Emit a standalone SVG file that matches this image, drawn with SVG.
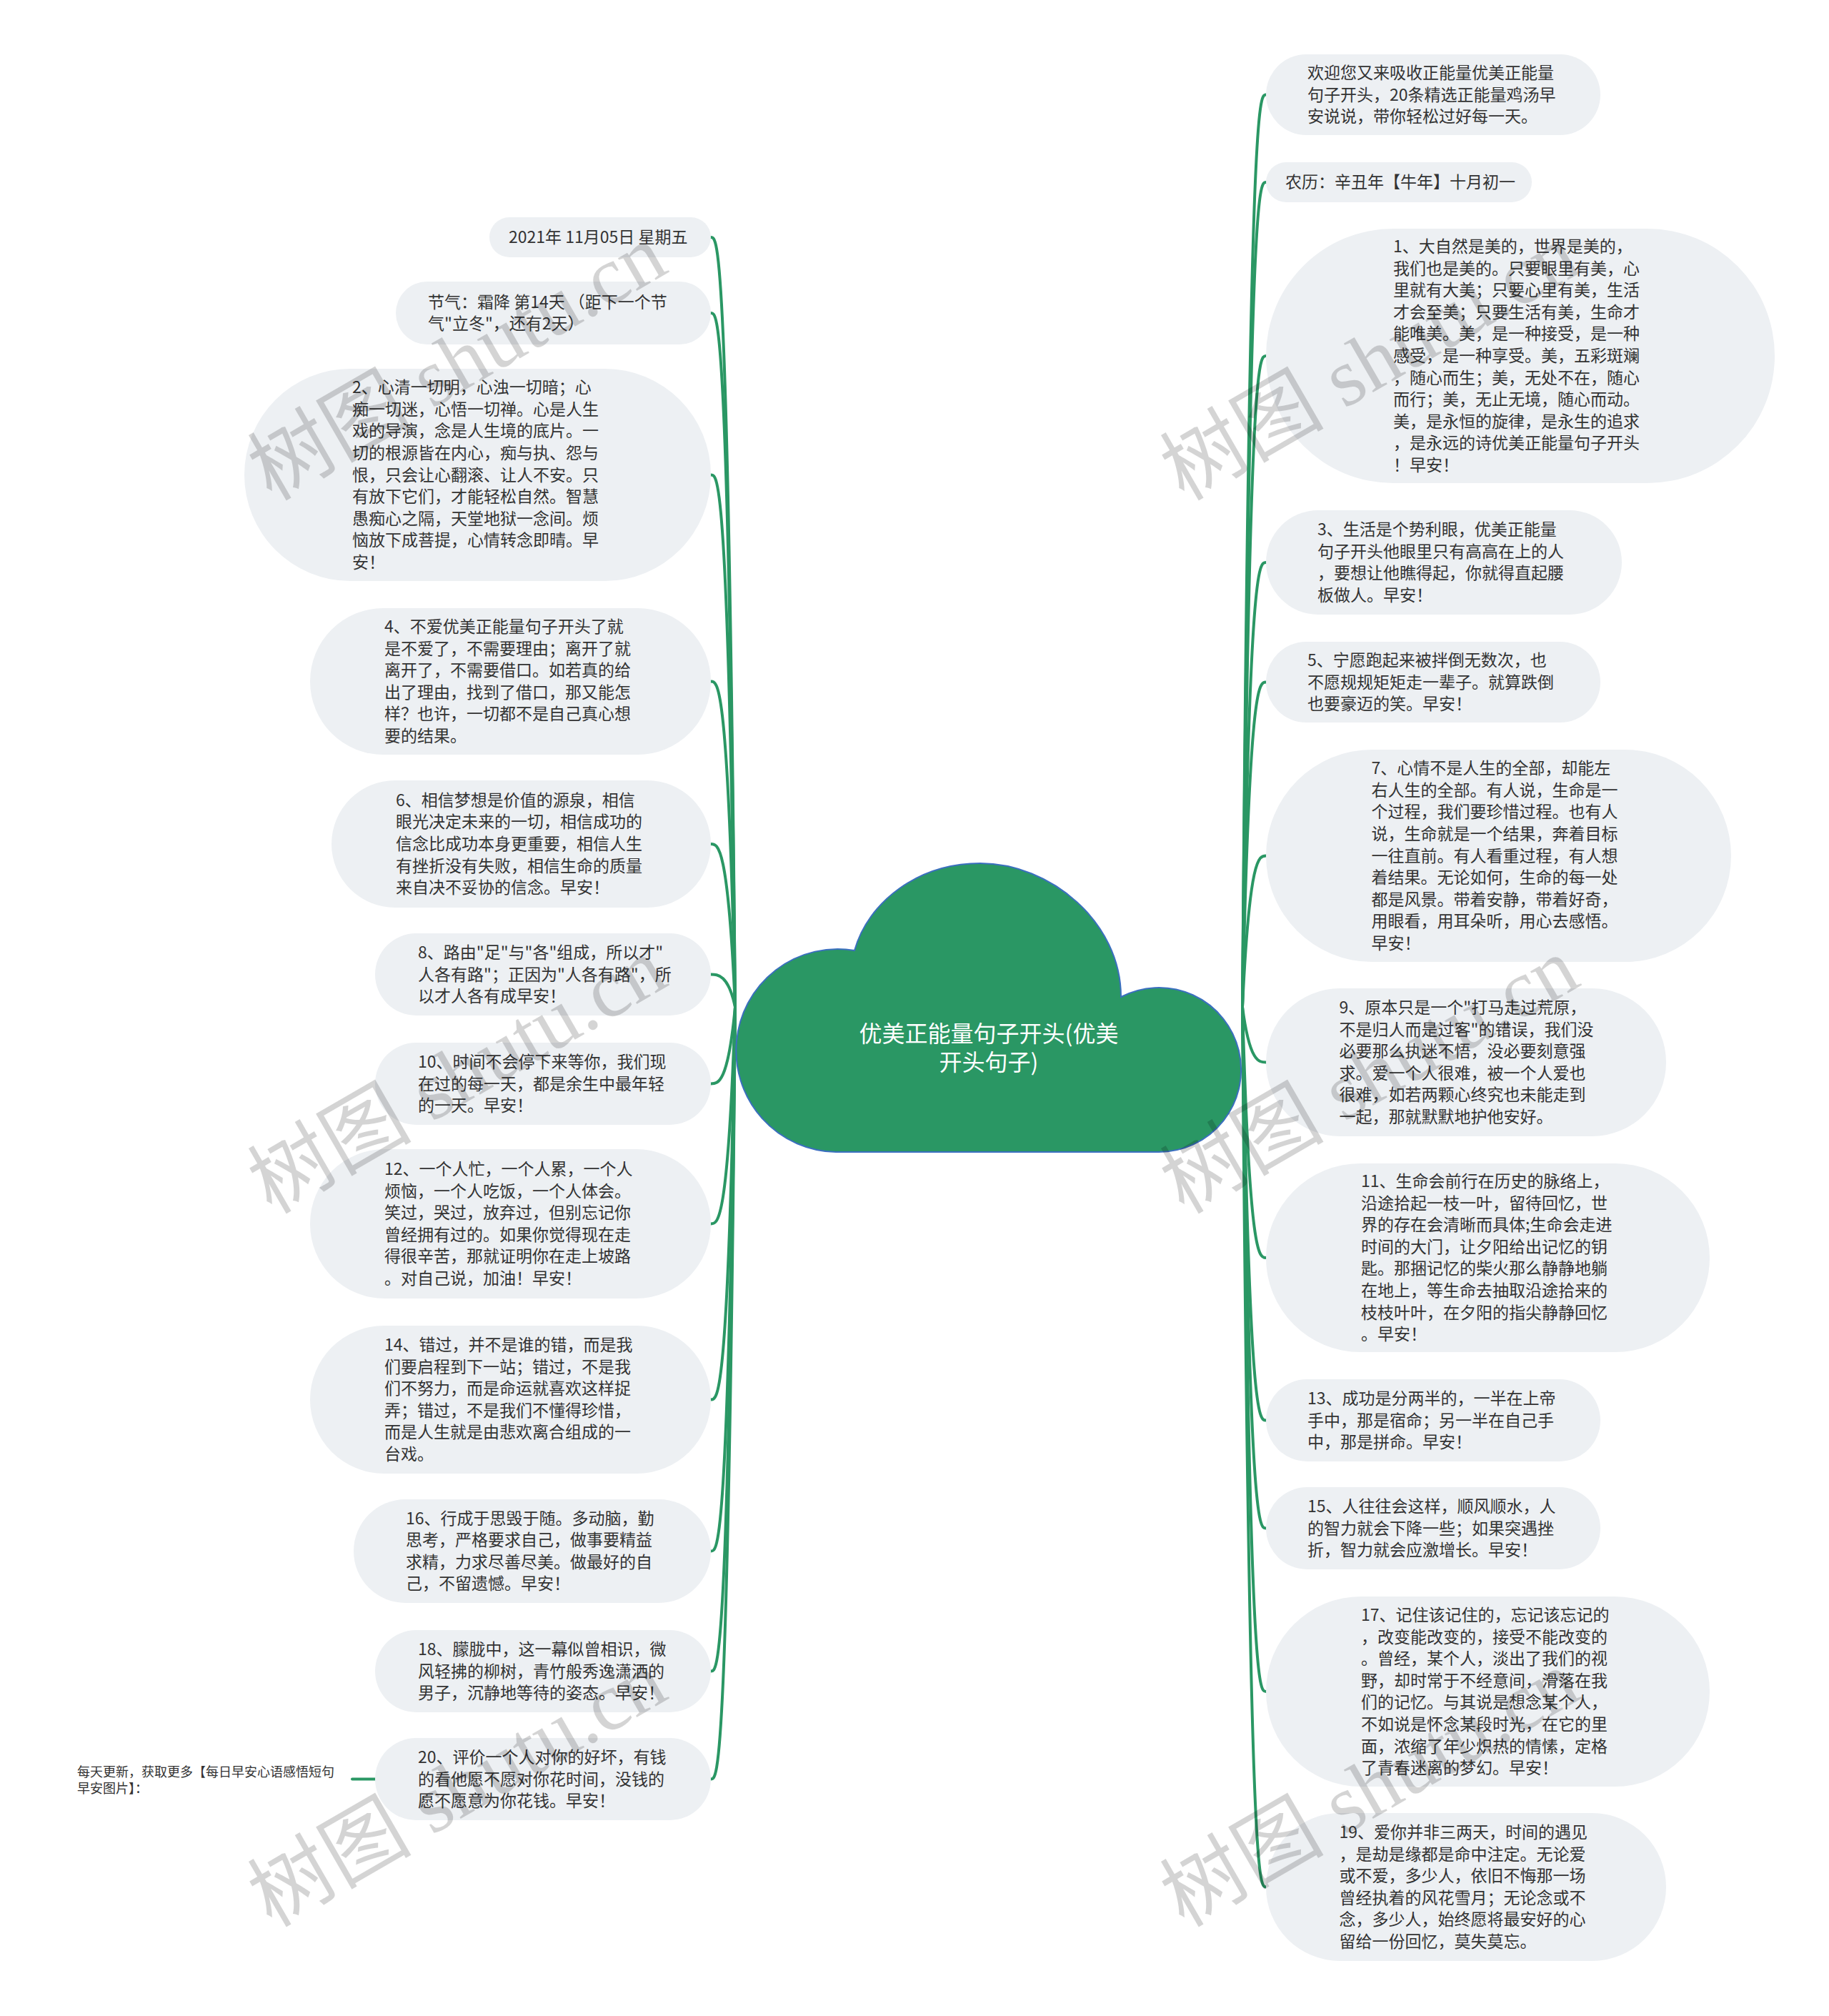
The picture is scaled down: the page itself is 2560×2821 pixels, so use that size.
<svg xmlns="http://www.w3.org/2000/svg" width="2560" height="2821" viewBox="0 0 2560 2821">
<style>
.b{fill:#edf0f3}
.t{font-family:"Noto Sans CJK SC","Liberation Sans",sans-serif;font-size:23px;fill:#333333}
.c{fill:none;stroke:#2a9764;stroke-width:4;stroke-linecap:round}
.root{fill:#2a9764;stroke:#3b6fbf;stroke-width:2}
.rt{font-family:"Noto Sans CJK SC","Liberation Sans",sans-serif;font-size:32px;fill:#ffffff;text-anchor:middle}
.fn{font-family:"Noto Sans CJK SC","Liberation Sans",sans-serif;font-size:18px;fill:#333333}
.wm{font-family:"Liberation Serif","Noto Sans CJK SC",serif;font-size:115px;fill:#000000;fill-opacity:0.17}
</style>
<rect width="2560" height="2821" fill="#ffffff"/>
<g id="connectors">
<path class="c" d="M1029 1409 C1019 332 1005 332 995 332"/>
<path class="c" d="M1029 1409 C1019 438 1005 438 995 438"/>
<path class="c" d="M1029 1409 C1019 664.5 1005 664.5 995 664.5"/>
<path class="c" d="M1029 1409 C1019 953.5 1005 953.5 995 953.5"/>
<path class="c" d="M1029 1409 C1019 1181 1005 1181 995 1181"/>
<path class="c" d="M1029 1409 C1019 1363.5 1005 1363.5 995 1363.5"/>
<path class="c" d="M1029 1409 C1019 1516.5 1005 1516.5 995 1516.5"/>
<path class="c" d="M1029 1409 C1019 1712.5 1005 1712.5 995 1712.5"/>
<path class="c" d="M1029 1409 C1019 1958.5 1005 1958.5 995 1958.5"/>
<path class="c" d="M1029 1409 C1019 2170.5 1005 2170.5 995 2170.5"/>
<path class="c" d="M1029 1409 C1019 2338.5 1005 2338.5 995 2338.5"/>
<path class="c" d="M1029 1409 C1019 2489.5 1005 2489.5 995 2489.5"/>
<path class="c" d="M1739 1409 C1749 132.5 1762 132.5 1772 132.5"/>
<path class="c" d="M1739 1409 C1749 255 1762 255 1772 255"/>
<path class="c" d="M1739 1409 C1749 498 1762 498 1772 498"/>
<path class="c" d="M1739 1409 C1749 787 1762 787 1772 787"/>
<path class="c" d="M1739 1409 C1749 954.5 1762 954.5 1772 954.5"/>
<path class="c" d="M1739 1409 C1749 1197.5 1762 1197.5 1772 1197.5"/>
<path class="c" d="M1739 1409 C1749 1486.5 1762 1486.5 1772 1486.5"/>
<path class="c" d="M1739 1409 C1749 1760 1762 1760 1772 1760"/>
<path class="c" d="M1739 1409 C1749 1987.5 1762 1987.5 1772 1987.5"/>
<path class="c" d="M1739 1409 C1749 2138.5 1762 2138.5 1772 2138.5"/>
<path class="c" d="M1739 1409 C1749 2367 1762 2367 1772 2367"/>
<path class="c" d="M1739 1409 C1749 2640.5 1762 2640.5 1772 2640.5"/>
<path class="c" d="M493 2489.5 L525 2489.5"/>
</g>
<g id="root">
<path class="root" d="M1170 1612 A142 142 0 1 1 1196 1330 C1215 1262 1285 1208 1372 1208 C1470 1208 1569 1290 1569 1395 A115 115 0 1 1 1622 1612 Z"/>
<text class="rt" x="1384" y="1458">优美正能量句子开头(优美</text>
<text class="rt" x="1384" y="1498">开头句子)</text>
</g>
<g id="n-r1"><rect class="b" x="1772" y="76" width="468" height="113" rx="56.5"/>
<text class="t" x="1830" y="109.9">欢迎您又来吸收正能量优美正能量<tspan x="1830" dy="30.6">句子开头，20条精选正能量鸡汤早</tspan><tspan x="1830" dy="30.6">安说说，带你轻松过好每一天。</tspan></text></g>
<g id="n-r2"><rect class="b" x="1772" y="227" width="372" height="56" rx="28"/>
<text class="t" x="1799" y="263">农历：辛丑年【牛年】十月初一</text></g>
<g id="n-r3"><rect class="b" x="1772" y="320" width="712" height="356" rx="178"/>
<text class="t" x="1950" y="353">1、大自然是美的，世界是美的，<tspan x="1950" dy="30.6">我们也是美的。只要眼里有美，心</tspan><tspan x="1950" dy="30.6">里就有大美；只要心里有美，生活</tspan><tspan x="1950" dy="30.6">才会至美；只要生活有美，生命才</tspan><tspan x="1950" dy="30.6">能唯美。美，是一种接受，是一种</tspan><tspan x="1950" dy="30.6">感受，是一种享受。美，五彩斑斓</tspan><tspan x="1950" dy="30.6">，随心而生；美，无处不在，随心</tspan><tspan x="1950" dy="30.6">而行；美，无止无境，随心而动。</tspan><tspan x="1950" dy="30.6">美，是永恒的旋律，是永生的追求</tspan><tspan x="1950" dy="30.6">，是永远的诗优美正能量句子开头</tspan><tspan x="1950" dy="30.6">！早安！</tspan></text></g>
<g id="n-r4"><rect class="b" x="1772" y="714" width="498" height="146" rx="73"/>
<text class="t" x="1844" y="749.1">3、生活是个势利眼，优美正能量<tspan x="1844" dy="30.6">句子开头他眼里只有高高在上的人</tspan><tspan x="1844" dy="30.6">，要想让他瞧得起，你就得直起腰</tspan><tspan x="1844" dy="30.6">板做人。早安！</tspan></text></g>
<g id="n-r5"><rect class="b" x="1772" y="898" width="468" height="113" rx="56.5"/>
<text class="t" x="1830" y="931.9">5、宁愿跑起来被拌倒无数次，也<tspan x="1830" dy="30.6">不愿规规矩矩走一辈子。就算跌倒</tspan><tspan x="1830" dy="30.6">也要豪迈的笑。早安！</tspan></text></g>
<g id="n-r6"><rect class="b" x="1772" y="1049" width="651" height="297" rx="148.5"/>
<text class="t" x="1919.5" y="1083.1">7、心情不是人生的全部，却能左<tspan x="1919.5" dy="30.6">右人生的全部。有人说，生命是一</tspan><tspan x="1919.5" dy="30.6">个过程，我们要珍惜过程。也有人</tspan><tspan x="1919.5" dy="30.6">说，生命就是一个结果，奔着目标</tspan><tspan x="1919.5" dy="30.6">一往直前。有人看重过程，有人想</tspan><tspan x="1919.5" dy="30.6">着结果。无论如何，生命的每一处</tspan><tspan x="1919.5" dy="30.6">都是风景。带着安静，带着好奇，</tspan><tspan x="1919.5" dy="30.6">用眼看，用耳朵听，用心去感悟。</tspan><tspan x="1919.5" dy="30.6">早安！</tspan></text></g>
<g id="n-r7"><rect class="b" x="1772" y="1383" width="560" height="207" rx="103.5"/>
<text class="t" x="1874.6" y="1418">9、原本只是一个"打马走过荒原，<tspan x="1874.6" dy="30.6">不是归人而是过客"的错误，我们没</tspan><tspan x="1874.6" dy="30.6">必要那么执迷不悟，没必要刻意强</tspan><tspan x="1874.6" dy="30.6">求。爱一个人很难，被一个人爱也</tspan><tspan x="1874.6" dy="30.6">很难，如若两颗心终究也未能走到</tspan><tspan x="1874.6" dy="30.6">一起，那就默默地护他安好。</tspan></text></g>
<g id="n-r8"><rect class="b" x="1772" y="1628" width="621" height="264" rx="132"/>
<text class="t" x="1905" y="1660.9">11、生命会前行在历史的脉络上，<tspan x="1905" dy="30.6">沿途拾起一枝一叶，留待回忆，世</tspan><tspan x="1905" dy="30.6">界的存在会清晰而具体;生命会走进</tspan><tspan x="1905" dy="30.6">时间的大门，让夕阳给出记忆的钥</tspan><tspan x="1905" dy="30.6">匙。那捆记忆的柴火那么静静地躺</tspan><tspan x="1905" dy="30.6">在地上，等生命去抽取沿途拾来的</tspan><tspan x="1905" dy="30.6">枝枝叶叶，在夕阳的指尖静静回忆</tspan><tspan x="1905" dy="30.6">。早安！</tspan></text></g>
<g id="n-r9"><rect class="b" x="1772" y="1930" width="468" height="115" rx="57.5"/>
<text class="t" x="1830" y="1964.9">13、成功是分两半的，一半在上帝<tspan x="1830" dy="30.6">手中，那是宿命；另一半在自己手</tspan><tspan x="1830" dy="30.6">中，那是拼命。早安！</tspan></text></g>
<g id="n-r10"><rect class="b" x="1772" y="2081" width="468" height="115" rx="57.5"/>
<text class="t" x="1830" y="2115.9">15、人往往会这样，顺风顺水，人<tspan x="1830" dy="30.6">的智力就会下降一些；如果突遇挫</tspan><tspan x="1830" dy="30.6">折，智力就会应激增长。早安！</tspan></text></g>
<g id="n-r11"><rect class="b" x="1772" y="2234" width="621" height="266" rx="133"/>
<text class="t" x="1905" y="2267.9">17、记住该记住的，忘记该忘记的<tspan x="1905" dy="30.6">，改变能改变的，接受不能改变的</tspan><tspan x="1905" dy="30.6">。曾经，某个人，淡出了我们的视</tspan><tspan x="1905" dy="30.6">野，却时常于不经意间，滑落在我</tspan><tspan x="1905" dy="30.6">们的记忆。与其说是想念某个人，</tspan><tspan x="1905" dy="30.6">不如说是怀念某段时光，在它的里</tspan><tspan x="1905" dy="30.6">面，浓缩了年少炽热的情愫，定格</tspan><tspan x="1905" dy="30.6">了青春迷离的梦幻。早安！</tspan></text></g>
<g id="n-r12"><rect class="b" x="1772" y="2537" width="560" height="207" rx="103.5"/>
<text class="t" x="1874.6" y="2572">19、爱你并非三两天，时间的遇见<tspan x="1874.6" dy="30.6">，是劫是缘都是命中注定。无论爱</tspan><tspan x="1874.6" dy="30.6">或不爱，多少人，依旧不悔那一场</tspan><tspan x="1874.6" dy="30.6">曾经执着的风花雪月；无论念或不</tspan><tspan x="1874.6" dy="30.6">念，多少人，始终愿将最安好的心</tspan><tspan x="1874.6" dy="30.6">留给一份回忆，莫失莫忘。</tspan></text></g>
<g id="n-l1"><rect class="b" x="685" y="304" width="310" height="56" rx="28"/>
<text class="t" x="712" y="340">2021年 11月05日 星期五</text></g>
<g id="n-l2"><rect class="b" x="554" y="394" width="441" height="88" rx="44"/>
<text class="t" x="599" y="430.7">节气：霜降 第14天 （距下一个节<tspan x="599" dy="30.6">气"立冬"，还有2天）</tspan></text></g>
<g id="n-l3"><rect class="b" x="342" y="516" width="653" height="297" rx="148.5"/>
<text class="t" x="493" y="550.1">2、心清一切明，心浊一切暗；心<tspan x="493" dy="30.6">痴一切迷，心悟一切禅。心是人生</tspan><tspan x="493" dy="30.6">戏的导演，念是人生境的底片。一</tspan><tspan x="493" dy="30.6">切的根源皆在内心，痴与执、怨与</tspan><tspan x="493" dy="30.6">恨，只会让心翻滚、让人不安。只</tspan><tspan x="493" dy="30.6">有放下它们，才能轻松自然。智慧</tspan><tspan x="493" dy="30.6">愚痴心之隔，天堂地狱一念间。烦</tspan><tspan x="493" dy="30.6">恼放下成菩提，心情转念即晴。早</tspan><tspan x="493" dy="30.6">安！</tspan></text></g>
<g id="n-l4"><rect class="b" x="434" y="851" width="561" height="205" rx="102.5"/>
<text class="t" x="538" y="885">4、不爱优美正能量句子开头了就<tspan x="538" dy="30.6">是不爱了，不需要理由；离开了就</tspan><tspan x="538" dy="30.6">离开了，不需要借口。如若真的给</tspan><tspan x="538" dy="30.6">出了理由，找到了借口，那又能怎</tspan><tspan x="538" dy="30.6">样？也许，一切都不是自己真心想</tspan><tspan x="538" dy="30.6">要的结果。</tspan></text></g>
<g id="n-l5"><rect class="b" x="464" y="1092" width="531" height="178" rx="89"/>
<text class="t" x="554" y="1127.8">6、相信梦想是价值的源泉，相信<tspan x="554" dy="30.6">眼光决定未来的一切，相信成功的</tspan><tspan x="554" dy="30.6">信念比成功本身更重要，相信人生</tspan><tspan x="554" dy="30.6">有挫折没有失败，相信生命的质量</tspan><tspan x="554" dy="30.6">来自决不妥协的信念。早安！</tspan></text></g>
<g id="n-l6"><rect class="b" x="525" y="1306" width="470" height="115" rx="57.5"/>
<text class="t" x="585" y="1340.9">8、路由"足"与"各"组成，所以才"<tspan x="585" dy="30.6">人各有路"；正因为"人各有路"，所</tspan><tspan x="585" dy="30.6">以才人各有成早安！</tspan></text></g>
<g id="n-l7"><rect class="b" x="525" y="1459" width="470" height="115" rx="57.5"/>
<text class="t" x="585" y="1493.9">10、时间不会停下来等你，我们现<tspan x="585" dy="30.6">在过的每一天，都是余生中最年轻</tspan><tspan x="585" dy="30.6">的一天。早安！</tspan></text></g>
<g id="n-l8"><rect class="b" x="434" y="1608" width="561" height="209" rx="104.5"/>
<text class="t" x="538" y="1644">12、一个人忙，一个人累，一个人<tspan x="538" dy="30.6">烦恼，一个人吃饭，一个人体会。</tspan><tspan x="538" dy="30.6">笑过，哭过，放弃过，但别忘记你</tspan><tspan x="538" dy="30.6">曾经拥有过的。如果你觉得现在走</tspan><tspan x="538" dy="30.6">得很辛苦，那就证明你在走上坡路</tspan><tspan x="538" dy="30.6">。对自己说，加油！早安！</tspan></text></g>
<g id="n-l9"><rect class="b" x="434" y="1855" width="561" height="207" rx="103.5"/>
<text class="t" x="538" y="1890">14、错过，并不是谁的错，而是我<tspan x="538" dy="30.6">们要启程到下一站；错过，不是我</tspan><tspan x="538" dy="30.6">们不努力，而是命运就喜欢这样捉</tspan><tspan x="538" dy="30.6">弄；错过，不是我们不懂得珍惜，</tspan><tspan x="538" dy="30.6">而是人生就是由悲欢离合组成的一</tspan><tspan x="538" dy="30.6">台戏。</tspan></text></g>
<g id="n-l10"><rect class="b" x="495" y="2098" width="500" height="145" rx="72.5"/>
<text class="t" x="568" y="2132.6">16、行成于思毁于随。多动脑，勤<tspan x="568" dy="30.6">思考，严格要求自己，做事要精益</tspan><tspan x="568" dy="30.6">求精，力求尽善尽美。做最好的自</tspan><tspan x="568" dy="30.6">己，不留遗憾。早安！</tspan></text></g>
<g id="n-l11"><rect class="b" x="525" y="2281" width="470" height="115" rx="57.5"/>
<text class="t" x="585" y="2315.9">18、朦胧中，这一幕似曾相识，微<tspan x="585" dy="30.6">风轻拂的柳树，青竹般秀逸潇洒的</tspan><tspan x="585" dy="30.6">男子，沉静地等待的姿态。早安！</tspan></text></g>
<g id="n-l12"><rect class="b" x="525" y="2432" width="470" height="115" rx="57.5"/>
<text class="t" x="585" y="2466.9">20、评价一个人对你的好坏，有钱<tspan x="585" dy="30.6">的看他愿不愿对你花时间，没钱的</tspan><tspan x="585" dy="30.6">愿不愿意为你花钱。早安！</tspan></text></g>
<g id="n-l13">
<text class="fn" x="108" y="2485.5">每天更新，获取更多【每日早安心语感悟短句<tspan x="108" dy="23">早安图片】：</tspan></text></g>
<g id="watermarks">
<text class="wm" x="380" y="702" transform="rotate(-30 380 702)">树图 shutu.cn</text>
<text class="wm" x="1657" y="702" transform="rotate(-30 1657 702)">树图 shutu.cn</text>
<text class="wm" x="380" y="1700" transform="rotate(-30 380 1700)">树图 shutu.cn</text>
<text class="wm" x="1657" y="1700" transform="rotate(-30 1657 1700)">树图 shutu.cn</text>
<text class="wm" x="380" y="2698" transform="rotate(-30 380 2698)">树图 shutu.cn</text>
<text class="wm" x="1657" y="2698" transform="rotate(-30 1657 2698)">树图 shutu.cn</text>
</g>
</svg>
